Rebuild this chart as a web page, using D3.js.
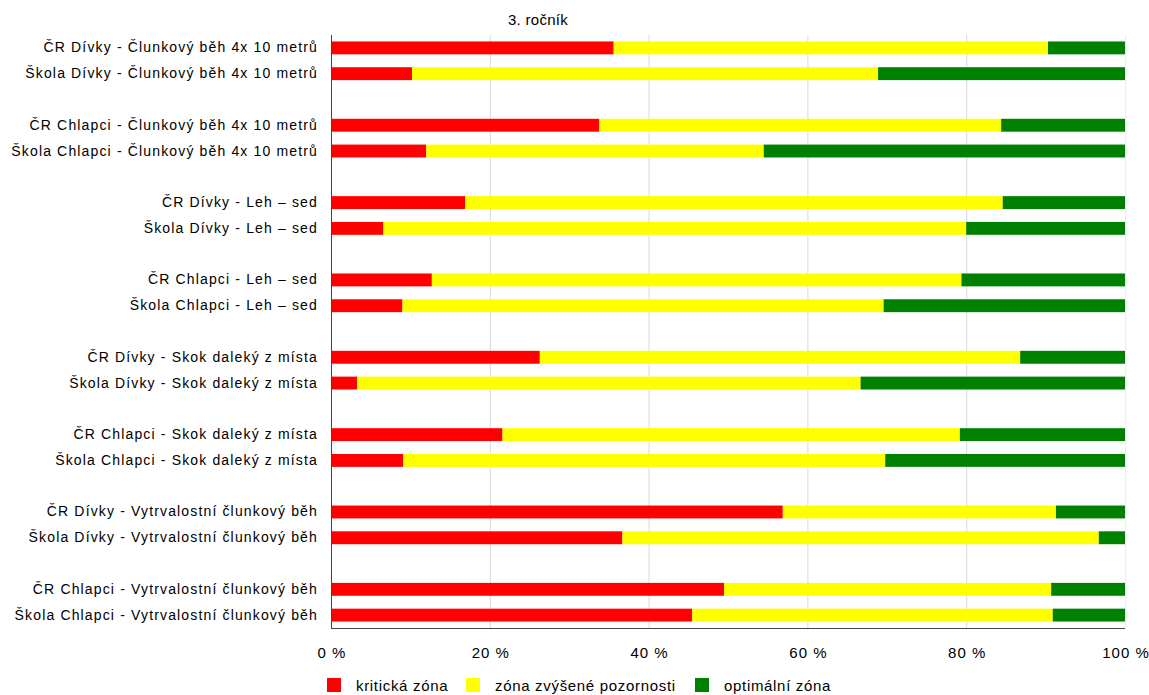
<!DOCTYPE html>
<html>
<head>
<meta charset="utf-8">
<script src="https://cdn.jsdelivr.net/npm/d3@7/dist/d3.min.js"></script>
<style>
  html, body { margin: 0; padding: 0; background: #fff; }
  svg { display: block; font-family: "Liberation Sans", Arial, sans-serif; }
</style>
</head>
<body>
<svg id="chart" width="1149" height="695"></svg>
<script>
const title = "3. ročník";
const categories = [
  "ČR Dívky - Člunkový běh 4x 10 metrů",
  "Škola Dívky - Člunkový běh 4x 10 metrů",
  "ČR Chlapci - Člunkový běh 4x 10 metrů",
  "Škola Chlapci - Člunkový běh 4x 10 metrů",
  "ČR Dívky - Leh – sed",
  "Škola Dívky - Leh – sed",
  "ČR Chlapci - Leh – sed",
  "Škola Chlapci - Leh – sed",
  "ČR Dívky - Skok daleký z místa",
  "Škola Dívky - Skok daleký z místa",
  "ČR Chlapci - Skok daleký z místa",
  "Škola Chlapci - Skok daleký z místa",
  "ČR Dívky - Vytrvalostní člunkový běh",
  "Škola Dívky - Vytrvalostní člunkový běh",
  "ČR Chlapci - Vytrvalostní člunkový běh",
  "Škola Chlapci - Vytrvalostní člunkový běh"
];
const seriesNames = ["kritická zóna", "zóna zvýšené pozornosti", "optimální zóna"];
const seriesColors = ["#ff0000", "#ffff00", "#008000"];
const kriticka = [35.6, 10.2, 33.8, 12.0, 16.9, 6.6, 12.7, 9.0, 26.3, 3.3, 21.6, 9.1, 56.9, 36.7, 49.5, 45.5];
const zvysene  = [54.7, 58.7, 50.6, 42.5, 67.7, 73.4, 66.7, 60.6, 60.5, 63.4, 57.6, 60.7, 34.4, 60.0, 41.2, 45.4];
const optimalni = [9.7, 31.1, 15.6, 45.5, 15.4, 20.0, 20.6, 30.4, 13.2, 33.3, 20.8, 30.2, 8.7, 3.3, 9.3, 9.1];
const xTicks = [0, 20, 40, 60, 80, 100];
const xTickLabels = ["0 %", "20 %", "40 %", "60 %", "80 %", "100 %"];

const svg = d3.select("#chart");
const W = 1149, H = 695;
const margin = {top: 35, right: 24, bottom: 67, left: 331};
const iw = W - margin.left - margin.right;
const ih = H - margin.top - margin.bottom;

// domain with blank separators between pairs
const domain = [];
categories.forEach((c, i) => {
  domain.push(c);
  if (i % 2 === 1 && i < categories.length - 1) domain.push("__gap" + i);
});

const x = d3.scaleLinear().domain([0, 100]).range([0, iw]);
const y = d3.scaleBand().domain(domain).range([0, ih]).paddingInner(0.5).paddingOuter(0.25);

const g = svg.append("g").attr("transform", `translate(${margin.left},${margin.top})`);

// gridlines
g.append("g").selectAll("line").data(xTicks.filter(t => t > 0)).join("line")
  .attr("x1", d => x(d) + 0.5).attr("x2", d => x(d) + 0.5)
  .attr("y1", 0).attr("y2", ih)
  .attr("stroke", d => d === 100 ? "#eeeeee" : "#d9d9d9").attr("stroke-width", 1);

// data rows
const rows = categories.map((c, i) => ({cat: c, k: kriticka[i], z: zvysene[i], o: optimalni[i]}));
const stack = d3.stack().keys(["k", "z", "o"]);
const stacked = stack(rows);

g.append("g").selectAll("g").data(stacked).join("g")
  .attr("fill", (d, i) => seriesColors[i])
  .selectAll("rect").data(d => d).join("rect")
  .attr("x", d => x(d[0]))
  .attr("width", d => x(d[1]) - x(d[0]))
  .attr("y", d => y(d.data.cat))
  .attr("height", y.bandwidth());

// axes
const yAxis = d3.axisLeft(y).tickSize(0).tickPadding(13)
  .tickFormat(d => d.startsWith("__gap") ? "" : d);
const ya = g.append("g").call(yAxis);
ya.select(".domain").attr("stroke", "#444").attr("d", `M0.5,0V${ih}`);
ya.selectAll("text").attr("font-size", "14px").attr("fill", "#000")
  .attr("letter-spacing", "1.15px")
  .attr("font-family", "'Liberation Sans', Arial, sans-serif");

const xAxis = d3.axisBottom(x).tickValues(xTicks).tickSize(0).tickPadding(19)
  .tickFormat((d, i) => xTickLabels[i]);
const xa = g.append("g").attr("transform", `translate(0,${ih})`).call(xAxis);
xa.select(".domain").attr("stroke", "#444").attr("d", `M0,0.5H${iw}`);
xa.selectAll("text").attr("font-size", "15px").attr("fill", "#000")
  .attr("letter-spacing", "1px").attr("dx", "0.5")
  .attr("font-family", "'Liberation Sans', Arial, sans-serif");

// title
svg.append("text").attr("x", 538).attr("y", 25).attr("text-anchor", "middle")
  .attr("font-size", "15px").attr("letter-spacing", "0.3px").attr("fill", "#000").text(title);

// legend
const legendX = [327, 466, 695];
const lg = svg.append("g");
seriesNames.forEach((n, i) => {
  lg.append("rect").attr("x", legendX[i]).attr("y", 678).attr("width", 14).attr("height", 14)
    .attr("fill", seriesColors[i]);
  lg.append("text").attr("x", legendX[i] + 29).attr("y", 691)
    .attr("font-size", "15px").attr("letter-spacing", "0.68px").attr("fill", "#000").text(n);
});
</script>
</body>
</html>
